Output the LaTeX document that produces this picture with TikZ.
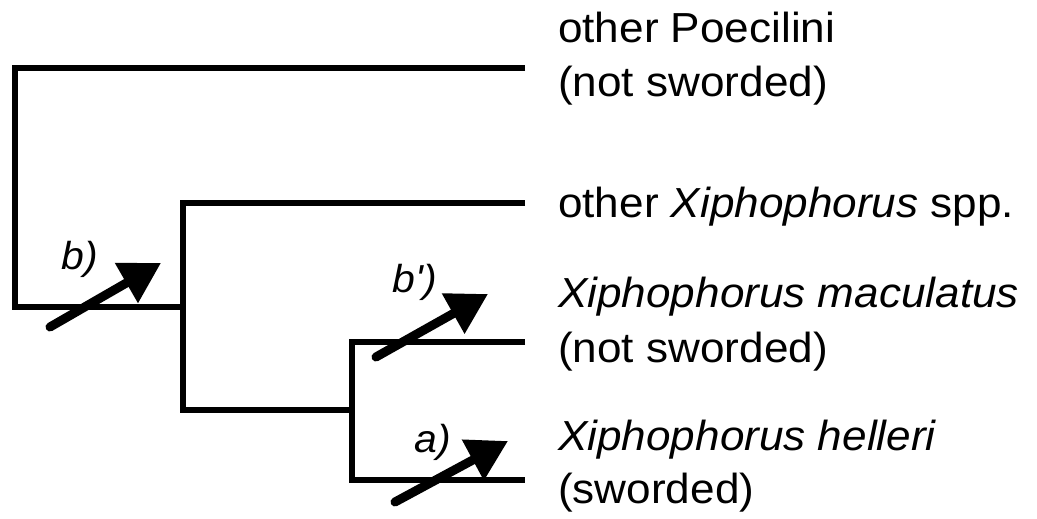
\documentclass[tikz,border=0pt]{standalone}
\usepackage{fontspec}
\setmainfont[FakeStretch=1.05]{Liberation Sans}
\newfontfamily\labfont[FakeStretch=1.05,Ligatures=TeXOff]{Liberation Sans}
\usetikzlibrary{arrows.meta}
\tikzset{
  branch/.style={line width=6pt, line join=miter, line cap=butt},
  evo/.style={line width=9pt, line cap=round, -{Triangle[length=40pt,width=44pt]}},
  taxon/.style={anchor=base west, inner sep=0pt, font=\fontsize{42}{54}\selectfont},
  evolab/.style={inner sep=0pt, font=\labfont\fontsize{39}{42}\selectfont\itshape}
}
\begin{document}
\begin{tikzpicture}[x=1pt,y=-1pt]
\useasboundingbox (0,0) rectangle (1037,519);
% tips
\coordinate (tP) at (525,68);
\coordinate (tO) at (525,203);
\coordinate (tM) at (525,342);
\coordinate (tH) at (525,480);
% internal nodes
\coordinate (root) at (15,307);
\coordinate (n2) at (183,307);
\coordinate (n2b) at (183,410);
\coordinate (n3) at (352,410);
\coordinate (n3b) at (352,480);
% tree
\draw[branch] (tP) -| (root) -- (n2);
\draw[branch] (tO) -| (n2b) -- (n3);
\draw[branch] (tM) -| (n3b) -- (tH);
% evolutionary arrows
\coordinate (bS) at (50,327);  \coordinate (bE) at (161,263);
\coordinate (bpS) at (376,357); \coordinate (bpE) at (488,294);
\coordinate (aS) at (395,502); \coordinate (aE) at (508,441);
\draw[evo] (bS) -- (bE);
\draw[evo] (bpS) -- (bpE);
\draw[evo] (aS) -- (aE);
\node[evolab] (lb) at (80,259) {b)};
\node[evolab] (lbp) at (415,282) {b')};
\node[evolab] (la) at (433,442) {a)};
% taxa
\node[taxon] (t1) at (558,43) {other Poecilini};
\node[taxon] (t1b) at (558,97) {(not sworded)};
\node[taxon] (t2) at (558,217) {other \textit{Xiphophorus} spp.};
\node[taxon] (t3) at (558,307) {\textit{Xiphophorus maculatus}};
\node[taxon] (t3b) at (558,362) {(not sworded)};
\node[taxon] (t4) at (558,450) {\textit{Xiphophorus helleri}};
\node[taxon] (t4b) at (558,503) {(sworded)};
\end{tikzpicture}
\end{document}
